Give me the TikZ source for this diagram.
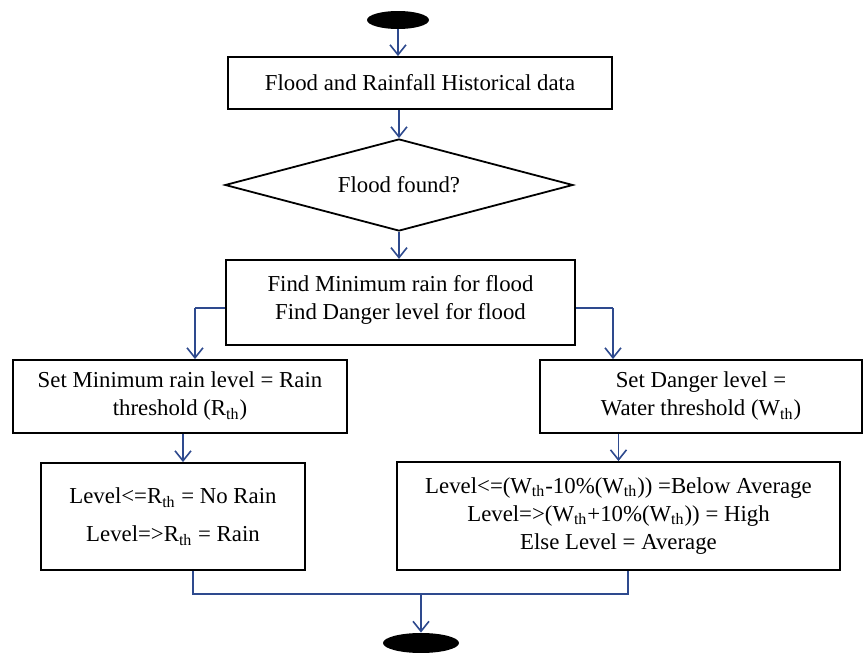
\documentclass[tikz,border=0pt]{standalone}
\usepackage{fontspec}
\setmainfont{Liberation Serif}
\usepackage{tikz}
\usetikzlibrary{arrows.meta, shapes.geometric}
\definecolor{flowblue}{HTML}{2E4A8E}
\newcommand{\thsub}{\textsubscript{th}}

\begin{document}
\begin{tikzpicture}[x=0.5pt, y=-0.5pt,
  every node/.style={font=\fontsize{11.4}{14}\selectfont, align=center},
  box/.style={draw, line width=0.9pt, inner sep=2pt},
  terminal/.style={ellipse, fill=black, inner sep=0pt},
  flow/.style={draw=flowblue, line width=0.8pt},
  arrow/.style={flow, -{Straight Barb[length=5pt, width=8pt]}}]
\useasboundingbox (0,0) rectangle (863,653);
\node[terminal, minimum width=31pt, minimum height=9pt] (start) at (398,20) {};
\node[box, minimum width=192pt, minimum height=26pt] (hist) at (420,83) {Flood and Rainfall Historical data};
\node[diamond, draw, line width=0.9pt, aspect=3.8, inner sep=1pt, minimum width=174pt, minimum height=46pt] (found) at (399,185) {Flood found?};
\node[box, line width=1.1pt, minimum width=174.5pt, minimum height=42.5pt] (find) at (400.5,302.5) {Find Minimum rain for flood\\Find Danger level for flood\\[-8.5pt]};
\node[box, minimum width=167pt, minimum height=36.5pt] (setrain) at (180,396.5) {Set Minimum rain level = Rain\\threshold (R\thsub)};
\node[box, minimum width=161pt, minimum height=36.5pt] (setwater) at (701,396.5) {Set Danger level =\\Water threshold (W\thsub)};
\node[box, minimum width=132pt, minimum height=53.5pt] (rainlvl) at (173,516.5) {Level<=R\thsub{} = No Rain\\[5pt]Level=>R\thsub{} = Rain};
\node[box, minimum width=221.5pt, minimum height=54pt] (waterlvl) at (618.5,516) {Level<=(W\thsub-10\%(W\thsub)) =Below Average\\Level=>(W\thsub+10\%(W\thsub)) = High\\Else Level = Average};
\node[terminal, minimum width=38pt, minimum height=10pt] (stop) at (421,643) {};
% knees and joins
\coordinate (lk) at (195,308);
\coordinate (rk) at (613,308);
\coordinate (jl) at (193,594);
\coordinate (jr) at (628,594);
\coordinate (jm) at (421,594);
\draw[arrow] (start) -- (start |- hist.north);
\draw[arrow] (hist.south -| found) -- (found.north);
\draw[arrow] (found.south) -- (find.north -| found);
\draw[flow] (find.west |- lk) -- (lk);
\draw[arrow] (lk) -- (lk |- setrain.north);
\draw[flow] (find.east |- rk) -- (rk);
\draw[arrow] (rk) -- (rk |- setwater.north);
\draw[arrow] (setrain.south -| 183,0) -- (rainlvl.north -| 183,0);
\draw[arrow] (waterlvl.north |- setwater.south) -- (waterlvl.north);
\draw[flow] (rainlvl.south -| jl) -- (jl) -- (jr) -- (waterlvl.south -| jr);
\draw[arrow] (jm) -- (stop);
\end{tikzpicture}
\end{document}
